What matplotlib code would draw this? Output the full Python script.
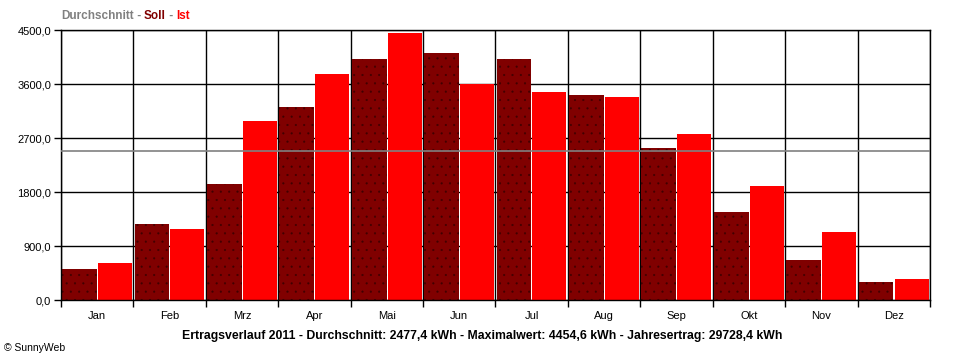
import numpy as np
import matplotlib
matplotlib.use("Agg")
import matplotlib.pyplot as plt

months = ["Jan", "Feb", "Mrz", "Apr", "Mai", "Jun", "Jul", "Aug", "Sep", "Okt", "Nov", "Dez"]
soll = [517, 1267, 1933, 3217, 4017, 4117, 4017, 3417, 2533, 1467, 667, 300]
ist = [617, 1183, 2990, 3767, 4454.6, 3600, 3460, 3390, 2770, 1905, 1140, 350]
durchschnitt = 2477.4
yticks = [0, 900, 1800, 2700, 3600, 4500]

plt.rcParams['font.family'] = ['Liberation Sans', 'DejaVu Sans']
plt.rcParams['hatch.linewidth'] = 0.3

fig = plt.figure(figsize=(9.6, 3.6), dpi=100)
ax = fig.add_axes([61/960, 1 - 300/360, 869/960, 270/360])

x = np.arange(len(months))
# grid first so the bars sit on top
for v in yticks:
    ax.axhline(v, color='black', lw=1, zorder=0)
for i in range(len(months) + 1):
    ax.axvline(i, color='black', lw=1, zorder=0)

ax.bar(x + 0.015, soll, width=0.48, align='edge', color='#800000',
       edgecolor='#400000', linewidth=0, hatch='..', zorder=2)
ax.bar(x + 0.51, ist, width=0.47, align='edge', color='#ff0000',
       linewidth=0, zorder=2)
ax.axhline(durchschnitt, color='#808080', lw=1.2, zorder=3)

ax.set_xlim(0, 12)
ax.set_ylim(0, 4500)
ax.set_yticks(yticks)
ax.set_yticklabels([f"{v:.1f}".replace('.', ',') for v in yticks], fontsize=8)
ax.set_xticks(np.arange(13))
ax.set_xticklabels([])
ax.set_xticks(x + 0.5, minor=True)
ax.set_xticklabels(months, minor=True, fontsize=8)
ax.tick_params(axis='x', which='major', length=5, width=1)
ax.tick_params(axis='x', which='minor', length=0, pad=8)
ax.tick_params(axis='y', length=5, width=1, pad=2)
for s in ax.spines.values():
    s.set_linewidth(1)

# header legend, pieces placed one after another
renderer = fig.canvas.get_renderer()
xpos = 61
parts = [("Durchschnitt", '#808080'), (" - ", '#808080'), ("Soll", '#800000'),
         (" - ", '#808080'), ("Ist", '#ff0000')]
for txt, col in parts:
    t = fig.text(xpos/960, 1 - 16/360, txt, color=col, fontsize=8.5,
                 fontweight='bold', va='center')
    bb = t.get_window_extent(renderer)
    xpos += bb.width

fig.text(482/960, 1 - 336/360,
         "Ertragsverlauf 2011 - Durchschnitt: 2477,4 kWh - Maximalwert: 4454,6 kWh - Jahresertrag: 29728,4 kWh",
         ha='center', va='center', fontsize=8.8, fontweight='bold')
fig.text(4/960, 1 - 348/360, "© SunnyWeb", fontsize=7.5, va='center')

fig.savefig("out.png", dpi=100)
